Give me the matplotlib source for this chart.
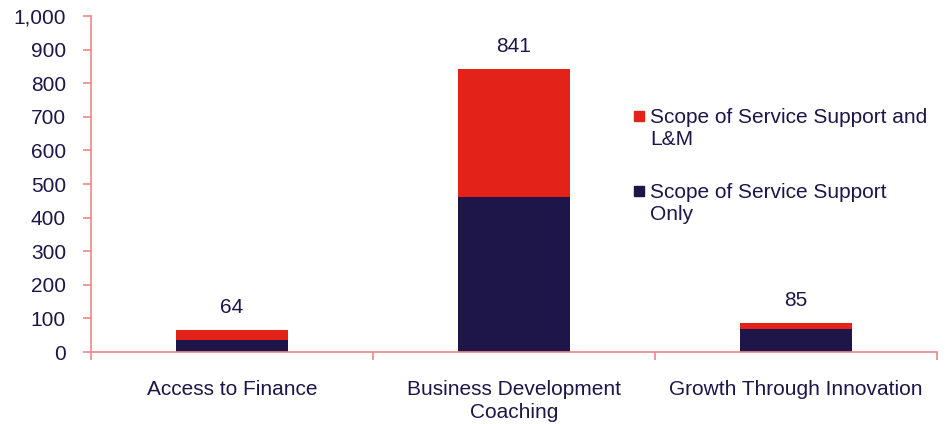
import matplotlib.pyplot as plt
from matplotlib.patches import Rectangle
import numpy as np

plt.rcParams['font.family'] = ['Liberation Sans', 'DejaVu Sans']

categories = ['Access to Finance', 'Business Development\nCoaching', 'Growth Through Innovation']
support_only = [36, 461, 68]
support_lm = [28, 380, 17]
totals = [64, 841, 85]
series_names = ['Scope of Service Support and\nL&M', 'Scope of Service Support\nOnly']

navy = '#1E1548'
red = '#E32219'
axis_col = '#E88A8A'
text_col = '#1E1548'

W, H = 952, 424
fig = plt.figure(figsize=(W / 100, H / 100), dpi=100)
ax = fig.add_axes([91 / W, 1 - 352 / H, (937 - 91) / W, (352 - 16) / H])

x = np.arange(len(categories))
w = 0.4
ax.bar(x, support_only, w, color=navy)
ax.bar(x, support_lm, w, bottom=support_only, color=red)

for xi, t in zip(x, totals):
    ax.text(xi, t + 40, f'{t:,}', ha='center', va='bottom', fontsize=15, color=text_col)

ax.set_xlim(-0.5, len(categories) - 0.5)
ax.set_ylim(0, 1000)
ax.set_yticks(np.arange(0, 1001, 100))
ax.set_yticklabels([f'{v:,}' for v in range(0, 1001, 100)])

ax.set_xticks(x)
ax.set_xticklabels(categories, linespacing=1.25)
ax.set_xticks(np.arange(-0.5, len(categories)), minor=True)
ax.tick_params(axis='x', which='major', length=0, pad=20, labelsize=15, labelcolor=text_col)
ax.tick_params(axis='x', which='minor', length=6, color=axis_col, width=1.2)
ax.tick_params(axis='y', length=6, color=axis_col, width=1.2, labelsize=15, labelcolor=text_col, pad=12)

for s in ['top', 'right']:
    ax.spines[s].set_visible(False)
for s in ['left', 'bottom']:
    ax.spines[s].set_color(axis_col)
    ax.spines[s].set_linewidth(1.2)

# legend: small square next to the first line of each wrapped label
for i, (name, col) in enumerate(zip(series_names, [red, navy])):
    top = 111 + i * 75
    fig.patches.append(Rectangle((634 / W, 1 - (top + 10) / H), 10 / W, 10 / H,
                                 transform=fig.transFigure, color=col))
    fig.text(650 / W, 1 - (top - 3) / H, name, ha='left', va='top', fontsize=15,
             color=text_col, linespacing=1.2)

fig.savefig('out.png', dpi=100)
